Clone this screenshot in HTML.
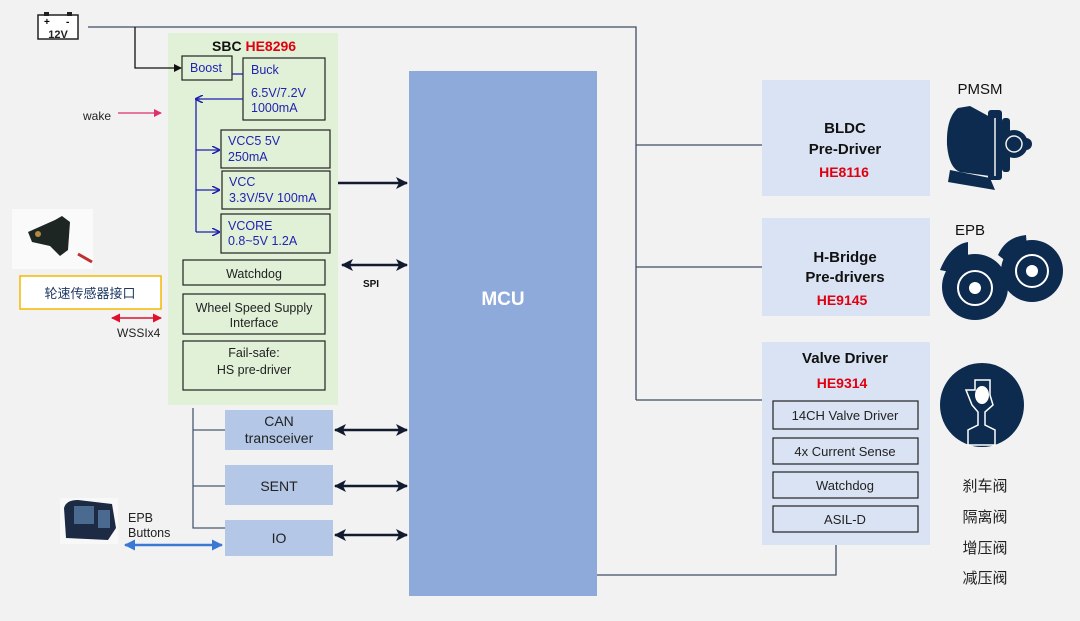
<!DOCTYPE html>
<html><head><meta charset="utf-8"><style>
html,body{margin:0;padding:0;background:#f2f2f2;}
svg{display:block;font-family:"Liberation Sans","Noto Sans CJK SC",sans-serif;}
</style></head><body>
<svg width="1080" height="621" viewBox="0 0 1080 621" xmlns="http://www.w3.org/2000/svg">
<defs>
<marker id="ab" markerWidth="8" markerHeight="8" refX="7" refY="4" orient="auto-start-reverse" markerUnits="userSpaceOnUse"><path d="M0,0 L8,4 L0,8 z" fill="#111"/></marker>
<marker id="abig" markerWidth="12" markerHeight="12" refX="11" refY="6" orient="auto-start-reverse" markerUnits="userSpaceOnUse"><path d="M0,0 L12,6 L0,12 L3,6 z" fill="#111a2e"/></marker>
<marker id="abl" markerWidth="8" markerHeight="8" refX="7" refY="4" orient="auto-start-reverse" markerUnits="userSpaceOnUse"><path d="M0,0 L8,4 L0,8" fill="none" stroke="#2020b0" stroke-width="1.5"/></marker>
<marker id="ar" markerWidth="9" markerHeight="9" refX="8" refY="4.5" orient="auto-start-reverse" markerUnits="userSpaceOnUse"><path d="M0,0 L9,4.5 L0,9 z" fill="#e0102a"/></marker>
<marker id="ap" markerWidth="8" markerHeight="8" refX="7" refY="4" orient="auto-start-reverse" markerUnits="userSpaceOnUse"><path d="M0,0 L8,4 L0,8 z" fill="#e0306a"/></marker>
<marker id="abu" markerWidth="11" markerHeight="11" refX="10" refY="5.5" orient="auto-start-reverse" markerUnits="userSpaceOnUse"><path d="M0,0 L11,5.5 L0,11 z" fill="#3a78d4"/></marker>
</defs>
<!-- power lines -->
<g stroke="#3e4e66" stroke-width="1.3" fill="none">
<path d="M88,27 H636 V400"/>
<path d="M636,145 H762"/><path d="M636,267 H762"/><path d="M636,400 H762"/>
<path d="M597,575 H836 V545"/>
</g>
<!-- battery -->
<rect x="38" y="15" width="40" height="24" fill="#fff" stroke="#222" stroke-width="1.5"/>
<rect x="44" y="12" width="5" height="4" fill="#222"/><rect x="67" y="12" width="5" height="4" fill="#222"/>
<text x="44" y="25" font-size="10" font-weight="bold">+</text><text x="66" y="25" font-size="10" font-weight="bold">-</text>
<text x="58" y="38" font-size="11" font-weight="bold" text-anchor="middle" fill="#222">12V</text>
<!-- SBC -->
<rect x="168" y="33" width="170" height="372" fill="#e1f1d8"/>
<path d="M135,27 V68 H181" stroke="#111" stroke-width="1.3" fill="none" marker-end="url(#ab)"/>
<text x="212" y="51" font-size="14" font-weight="bold" fill="#111">SBC <tspan fill="#e00010">HE8296</tspan></text>
<g stroke="#222" stroke-width="1.2" fill="none">
<rect x="182" y="56" width="50" height="24"/>
<rect x="243" y="58" width="82" height="62"/>
<rect x="221" y="130" width="109" height="38"/>
<rect x="222" y="171" width="108" height="38"/>
<rect x="221" y="214" width="109" height="39"/>
<rect x="183" y="260" width="142" height="25"/>
<rect x="183" y="294" width="142" height="40"/>
<rect x="183" y="341" width="142" height="49"/>
</g>
<g stroke="#2020b0" stroke-width="1.3" fill="none">
<path d="M232,74 H243"/>
<path d="M243,99 H196 V232"/>
<path d="M196,99 H200" marker-end="url(#abl)" transform="rotate(180 198 99)"/>
<path d="M196,150 H219" marker-end="url(#abl)"/>
<path d="M196,190 H219" marker-end="url(#abl)"/>
<path d="M196,232 H219" marker-end="url(#abl)"/>
</g>
<g fill="#2323b0" font-size="12.5">
<text x="190" y="72">Boost</text>
<text x="251" y="74">Buck</text>
<text x="251" y="97">6.5V/7.2V</text><text x="251" y="112">1000mA</text>
<text x="228" y="145">VCC5 5V</text><text x="228" y="161">250mA</text>
<text x="229" y="186">VCC</text><text x="229" y="202">3.3V/5V 100mA</text>
<text x="228" y="230">VCORE</text><text x="228" y="245">0.8~5V 1.2A</text>
</g>
<g fill="#222" font-size="12.5" text-anchor="middle">
<text x="254" y="278">Watchdog</text>
<text x="254" y="312">Wheel Speed Supply</text><text x="254" y="327">Interface</text>
<text x="254" y="357">Fail-safe:</text><text x="254" y="374">HS pre-driver</text>
</g>
<!-- wake -->
<text x="83" y="120" font-size="12" fill="#222">wake</text>
<path d="M118,113 H161" stroke="#e0306a" stroke-width="1.3" marker-end="url(#ap)"/>
<!-- sensor image -->
<rect x="12" y="209" width="81" height="60" fill="#fafafa"/>
<path d="M28,232 L55,220 L62,216 L70,222 L68,250 L60,256 L50,246 L32,242 z" fill="#1e2624"/>
<circle cx="38" cy="234" r="3" fill="#b08a40"/>
<path d="M78,254 L92,262" stroke="#c03030" stroke-width="3"/>
<rect x="20" y="276" width="141" height="33" fill="#fff" stroke="#f5b800" stroke-width="1.5"/>
<text x="90" y="298" font-size="13" text-anchor="middle" fill="#1f3864">轮速传感器接口</text>
<path d="M112,318 H161" stroke="#e0102a" stroke-width="1.5" marker-start="url(#ar)" marker-end="url(#ar)"/>
<text x="117" y="337" font-size="12" fill="#222">WSSIx4</text>
<!-- MCU -->
<rect x="409" y="71" width="188" height="525" fill="#8eaadb"/>
<text x="503" y="305" font-size="19" font-weight="bold" fill="#fff" text-anchor="middle">MCU</text>
<g stroke="#111a2e" stroke-width="2.5">
<path d="M338,183 H407" marker-end="url(#abig)"/>
<path d="M342,265 H407" marker-start="url(#abig)" marker-end="url(#abig)"/>
<path d="M335,430 H407" marker-start="url(#abig)" marker-end="url(#abig)"/>
<path d="M335,486 H407" marker-start="url(#abig)" marker-end="url(#abig)"/>
<path d="M335,535 H407" marker-start="url(#abig)" marker-end="url(#abig)"/>
</g>
<text x="371" y="287" font-size="10" font-weight="bold" text-anchor="middle" fill="#111">SPI</text>
<!-- CAN etc -->
<g stroke="#4a5870" stroke-width="1.3" fill="none">
<path d="M193,408 V528 H225"/><path d="M193,430 H225"/><path d="M193,486 H225"/>
</g>
<g fill="#b4c7e7"><rect x="225" y="410" width="108" height="40"/><rect x="225" y="465" width="108" height="40"/><rect x="225" y="520" width="108" height="36"/></g>
<g font-size="14" fill="#222" text-anchor="middle">
<text x="279" y="426">CAN</text><text x="279" y="443">transceiver</text>
<text x="279" y="491">SENT</text><text x="279" y="543">IO</text>
</g>
<!-- EPB buttons -->
<rect x="60" y="498" width="58" height="46" fill="#f8f8f8"/>
<path d="M64,508 Q66,500 78,500 L112,504 L116,528 L108,540 L66,538 z" fill="#1c2a44"/>
<rect x="74" y="506" width="20" height="18" fill="#4a6a90"/><rect x="98" y="510" width="12" height="18" fill="#4a6a90"/>
<text x="128" y="522" font-size="12.5" fill="#222">EPB</text><text x="128" y="537" font-size="12.5" fill="#222">Buttons</text>
<path d="M125,545 H222" stroke="#3a78d4" stroke-width="2.5" marker-start="url(#abu)" marker-end="url(#abu)"/>
<!-- right boxes -->
<g fill="#dae3f3"><rect x="762" y="80" width="168" height="116"/><rect x="762" y="218" width="168" height="98"/><rect x="762" y="342" width="168" height="203"/></g>
<g font-size="15" font-weight="bold" text-anchor="middle" fill="#111">
<text x="845" y="133">BLDC</text><text x="845" y="154">Pre-Driver</text>
<text x="845" y="262">H-Bridge</text><text x="845" y="282">Pre-drivers</text>
<text x="845" y="363">Valve Driver</text>
</g>
<g font-size="14" font-weight="bold" text-anchor="middle" fill="#e00010">
<text x="844" y="177">HE8116</text><text x="842" y="305">HE9145</text><text x="842" y="388">HE9314</text>
</g>
<g stroke="#222" stroke-width="1.2" fill="none">
<rect x="773" y="401" width="145" height="28"/><rect x="773" y="438" width="145" height="26"/>
<rect x="773" y="472" width="145" height="26"/><rect x="773" y="506" width="145" height="26"/>
</g>
<g font-size="13" fill="#222" text-anchor="middle">
<text x="845" y="420">14CH Valve Driver</text><text x="845" y="456">4x Current Sense</text>
<text x="845" y="490">Watchdog</text><text x="845" y="524">ASIL-D</text>
</g>
<!-- icons -->
<text x="980" y="94" font-size="15" text-anchor="middle" fill="#111">PMSM</text>
<g fill="#0d2a4f">
<path d="M958,108 Q946,118 947,145 Q949,168 960,172 L990,176 L992,118 L970,106 z"/>
<rect x="988" y="110" width="14" height="70" rx="3"/>
<rect x="1002" y="118" width="8" height="54" rx="3"/>
<circle cx="1014" cy="144" r="14"/><circle cx="1026" cy="144" r="6"/>
<path d="M950,170 L990,178 L995,190 L948,182 z"/>
</g>
<g fill="none" stroke="#f2f2f2" stroke-width="1.5"><path d="M995,118 V176"/><circle cx="1014" cy="144" r="8"/></g>
<text x="970" y="235" font-size="15" text-anchor="middle" fill="#111">EPB</text>
<g fill="#0d2a4f">
<circle cx="975" cy="287" r="33"/><circle cx="1032" cy="271" r="31"/>
<path d="M940,270 Q950,245 968,242 L968,255 Q955,258 950,272 z"/>
<path d="M998,255 Q1006,237 1026,235 L1027,248 Q1012,250 1007,262 z"/>
</g>
<g fill="none" stroke="#fff" stroke-width="2"><circle cx="975" cy="288" r="17"/><circle cx="1032" cy="271" r="16"/></g>
<g fill="#fff"><circle cx="975" cy="288" r="6"/><circle cx="1032" cy="271" r="6"/></g>
<circle cx="982" cy="405" r="42" fill="#0d2a4f"/>
<path d="M966,390 H975 V380 H990 V395 L993,405 L985,412 V425 L995,430 V445 H968 V430 L978,425 V412 L972,405 z" fill="none" stroke="#fff" stroke-width="1.5"/>
<ellipse cx="982" cy="395" rx="7" ry="9" fill="#fff"/>
<g font-size="15" fill="#222" text-anchor="middle">
<text x="985" y="491">刹车阀</text><text x="985" y="522">隔离阀</text><text x="985" y="553">增压阀</text><text x="985" y="583">减压阀</text>
</g>
</svg>
</body></html>
